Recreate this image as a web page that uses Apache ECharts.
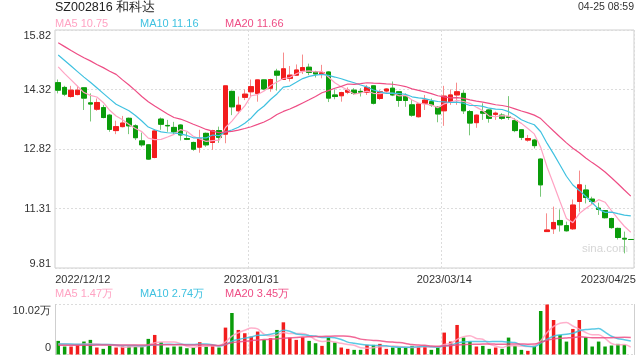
<!DOCTYPE html>
<html><head><meta charset="utf-8">
<script src="https://cdn.jsdelivr.net/npm/echarts@6/dist/echarts.min.js"></script>
<style>html,body{margin:0;padding:0;background:#fff}#c{width:640px;height:360px}</style>
</head><body><div id="c"></div>
<script>
const dates = [
'2022/12/12','2022/12/13','2022/12/14','2022/12/15','2022/12/16','2022/12/19','2022/12/20','2022/12/21','2022/12/22','2022/12/23','2022/12/26','2022/12/27','2022/12/28','2022/12/29','2022/12/30',
'2023/01/03','2023/01/04','2023/01/05','2023/01/06','2023/01/09','2023/01/10','2023/01/11','2023/01/12','2023/01/13','2023/01/16','2023/01/17','2023/01/18','2023/01/19','2023/01/20','2023/01/30','2023/01/31',
'2023/02/01','2023/02/02','2023/02/03','2023/02/06','2023/02/07','2023/02/08','2023/02/09','2023/02/10','2023/02/13','2023/02/14','2023/02/15','2023/02/16','2023/02/17','2023/02/20','2023/02/21','2023/02/22','2023/02/23','2023/02/24','2023/02/27','2023/02/28',
'2023/03/01','2023/03/02','2023/03/03','2023/03/06','2023/03/07','2023/03/08','2023/03/09','2023/03/10','2023/03/13','2023/03/14','2023/03/15','2023/03/16','2023/03/17','2023/03/20','2023/03/21','2023/03/22','2023/03/23','2023/03/24','2023/03/27','2023/03/28','2023/03/29','2023/03/30','2023/03/31',
'2023/04/03','2023/04/04','2023/04/06','2023/04/07','2023/04/10','2023/04/11','2023/04/12','2023/04/13','2023/04/14','2023/04/17','2023/04/18','2023/04/19','2023/04/20','2023/04/21','2023/04/24','2023/04/25'];

const opens = [14.49,14.37,14.14,14.19,14.36,13.98,13.82,13.86,13.67,13.28,13.38,13.59,13.40,13.02,12.92,12.60,13.57,13.41,13.36,13.42,
13.08,12.98,12.86,13.21,12.98,13.28,13.19,14.27,13.78,14.12,14.26,14.22,14.56,14.35,14.78,14.57,14.60,14.68,14.79,14.88,
14.77,14.71,14.76,14.18,14.16,14.25,14.30,14.27,14.25,14.41,14.09,14.28,14.35,14.26,14.15,13.93,13.63,13.97,14.01,13.87,
13.78,14.01,14.18,14.22,13.76,13.48,13.76,13.80,13.69,13.67,13.63,13.53,13.30,13.04,13.04,12.56,10.73,10.80,11.01,10.88,
10.80,11.49,11.78,11.55,11.32,11.26,11.06,10.81,10.56,10.53];
const closes = [14.30,14.20,14.30,14.30,14.10,13.95,13.99,13.61,13.31,13.38,13.47,13.40,13.10,12.92,12.56,13.27,13.44,13.40,13.25,13.17,
13.06,12.81,13.07,12.92,13.28,13.11,14.41,13.88,13.92,14.20,14.39,14.56,14.33,14.57,14.68,14.84,14.68,14.81,14.87,14.75,
14.71,14.74,14.10,14.14,14.24,14.30,14.22,14.25,14.37,13.97,14.26,14.33,14.18,14.04,14.04,13.67,13.95,14.05,13.93,13.70,
14.15,14.18,14.26,13.78,13.47,13.67,13.72,13.59,13.72,13.59,13.61,13.28,13.11,13.08,12.90,11.91,10.77,10.96,10.90,10.75,
11.40,11.91,11.59,11.49,11.29,11.08,10.83,10.58,10.54,10.53];
const lows = [14.22,14.15,14.11,14.17,13.80,13.51,13.78,13.59,13.25,13.19,13.36,13.19,13.04,12.87,12.54,12.58,13.30,13.25,13.17,13.03,
13.04,12.77,12.72,12.87,12.79,12.97,12.96,13.67,13.70,14.05,14.14,14.01,14.30,14.26,14.29,14.56,14.52,14.66,14.71,14.68,
14.62,14.60,14.00,14.07,14.01,14.20,14.18,14.14,14.18,13.94,14.05,14.22,14.15,13.88,13.88,13.63,13.61,13.80,13.88,13.49,
13.40,13.93,13.93,13.70,13.16,13.35,13.55,13.48,13.55,13.55,13.55,13.24,13.04,13.00,12.83,11.61,10.73,10.67,10.73,10.73,
10.77,11.23,11.44,11.40,11.15,11.06,10.80,10.53,10.18,10.53];
const highs = [14.57,14.41,14.41,14.41,14.37,14.22,14.09,13.93,13.70,13.53,13.65,13.61,13.44,13.23,12.94,13.31,13.61,13.55,13.50,13.44,
13.24,13.00,13.30,13.23,13.30,13.38,14.41,14.29,14.14,14.32,14.57,14.57,14.57,14.59,14.84,15.25,14.91,14.95,15.20,14.97,
14.79,14.94,14.78,14.32,14.26,14.37,14.35,14.35,14.43,14.42,14.30,14.35,14.52,14.28,14.22,14.05,13.97,14.18,14.09,13.90,
14.41,14.32,14.49,14.30,13.80,13.69,13.97,13.82,13.76,13.72,14.15,13.59,13.31,13.17,13.07,12.58,11.19,11.36,11.29,10.98,
11.54,12.27,11.91,11.61,11.46,11.27,11.08,10.83,10.73,10.53];
// volume in 万
const volumes = [2.73,1.60,1.60,1.93,2.60,2.93,1.40,1.13,1.80,1.40,1.60,1.60,1.53,1.60,3.13,3.92,2.46,1.40,1.60,1.60,
1.26,1.40,2.46,1.60,1.80,1.40,5.39,8.32,4.92,4.26,3.59,4.60,2.93,3.26,4.92,6.45,3.39,2.93,3.46,2.73,
2.26,1.73,3.40,2.40,1.40,1.13,0.93,0.93,1.93,1.93,2.13,1.13,1.40,1.40,1.40,1.73,1.60,1.73,0.93,1.40,
4.39,2.59,5.92,3.39,2.59,1.60,1.73,1.13,1.40,1.13,3.39,1.73,0.93,0.73,1.73,8.72,10.02,6.92,3.92,2.59,
5.12,6.92,3.46,1.60,2.59,1.60,1.80,2.13,1.93,0];

// MA values carried in from before the visible window
const ma5Head = [14.89,14.72,14.56,14.40];
const ma10Head = [15.19,15.05,14.91,14.77,14.63,14.50,14.36,14.22,14.08];
const ma20Head = [15.50,15.40,15.30,15.21,15.12,15.04,14.95,14.87,14.78,14.70,14.56,14.43,14.29,14.14,14.01,13.90,13.80,13.70,13.61];
const vma5Head = [2.10,2.10,2.00,2.00];
const vma10Head = [2.10,2.10,2.10,2.05,2.05,2.00,2.00,2.00,2.00];
const vma20Head = [1.85,1.85,1.86,1.86,1.87,1.87,1.88,1.88,1.88,1.89,1.89,1.90,1.90,1.90,1.92,1.94,1.95,1.96,1.97];

const yTickLabels = ['9.81','11.31','12.82','14.32','15.82'];
const volTickLabels = ['0','10.02万'];
const xLabelIdx = [0,30,60,89];
const vLineIdx = [30,60];
const legendTop = ['MA5 10.75','MA10 11.16','MA20 11.66'];
const legendVol = ['MA5 1.47万','MA10 2.74万','MA20 3.45万'];

const UP='#f21d1d', DOWN='#0a9c0a', UP_W='#f78c8c', DOWN_W='#79c779';
const C5='#ffa3c3', C10='#3fc1e0', C20='#ee4d85';
const YMIN=9.81, YMAX=15.82, YINT=(YMAX-YMIN)/4;

function movingAvg(vals,n,head){
  return vals.map((v,i)=> i<head.length ? head[i] : +(vals.slice(i-n+1,i+1).reduce((a,b)=>a+b,0)/n).toFixed(3));
}
function isUp(i){
  if (closes[i]!==opens[i]) return closes[i]>opens[i];
  return i===0 || closes[i]>=closes[i-1];
}

const chart = echarts.init(document.getElementById('c'), null, {renderer:'canvas'});
const txt = {color:'#333', fontSize:11, fontFamily:'Liberation Sans, Arial, sans-serif'};
const dotted = {color:'#dcdcdc', type:[2,2], width:1};

const graphic = [
  {type:'text', left:55, top:1, style:{text:'SZ002816 和科达', fill:'#222', fontSize:12.5, fontFamily:'Liberation Sans, Arial, sans-serif'}},
  {type:'text', right:6, top:2, style:{text:'04-25 08:59', fill:'#333', fontSize:10.5, fontFamily:'Liberation Sans, Arial, sans-serif'}},
  {type:'text', left:582, top:243, style:{text:'sina.com', fill:'#d6d6d6', fontSize:11.5, fontFamily:'Liberation Sans, Arial, sans-serif'}}
];
[legendTop, legendVol].forEach((arr,k)=>{
  [C5,C10,C20].forEach((c,j)=>{
    graphic.push({type:'text', left:55+85*j, top: k===0?18:288, style:{text:arr[j], fill:c, fontSize:11, fontFamily:'Liberation Sans, Arial, sans-serif'}});
  });
});

const option = {
  animation:false,
  backgroundColor:'#fff',
  graphic: graphic,
  grid:[
    {left:55, right:6, top:30, height:238, show:true, borderColor:'#cfcfcf', borderWidth:1},
    {left:55, right:6, top:304.5, height:50}
  ],
  xAxis:[
    {type:'category', gridIndex:0, data:dates, boundaryGap:true,
     axisLine:{show:false}, axisTick:{show:false},
     axisLabel:Object.assign({}, txt, {margin:6, interval:(i)=>xLabelIdx.includes(i),
       formatter:(v,i)=> i===0 ? '{l|'+v+'}' : (i===dates.length-1 ? '{r|'+v+'}' : v),
       rich:{l:Object.assign({},txt,{padding:[0,0,0,49]}), r:Object.assign({},txt,{padding:[0,45,0,0]})}}),
     splitLine:{show:true, interval:(i)=>vLineIdx.includes(i), lineStyle:dotted}},
    {type:'category', gridIndex:1, data:dates, boundaryGap:true,
     axisLine:{show:false}, axisTick:{show:false}, axisLabel:{show:false},
     splitLine:{show:true, interval:(i)=>vLineIdx.includes(i), lineStyle:dotted}}
  ],
  yAxis:[
    {type:'value', gridIndex:0, min:YMIN, max:YMAX, interval:YINT,
     axisLine:{show:false}, axisTick:{show:false},
     splitLine:{show:true, lineStyle:dotted},
     axisLabel:Object.assign({}, txt, {margin:4,
       formatter:(v)=>{const k=Math.round((v-YMIN)/YINT); const s=yTickLabels[k];
         return k===4 ? '{t|'+s+'}' : (k===0 ? '{b|'+s+'}' : s);},
       rich:{t:Object.assign({},txt,{padding:[11,0,0,0]}), b:Object.assign({},txt,{padding:[0,0,9,0]})}})},
    {type:'value', gridIndex:1, min:0, max:10.02, interval:10.02,
     axisLine:{show:true, lineStyle:{color:'#cfcfcf'}}, axisTick:{show:false},
     splitLine:{show:true, lineStyle:dotted},
     axisLabel:Object.assign({}, txt, {margin:4,
       formatter:(v)=> v>0 ? '{t|'+volTickLabels[1]+'}' : '{b|'+volTickLabels[0]+'}',
       rich:{t:Object.assign({},txt,{padding:[13,0,0,0]}), b:Object.assign({},txt,{padding:[0,0,13,0]})}})},
    {type:'value', gridIndex:1, position:'right', min:0, max:1,
     axisLine:{show:true, lineStyle:{color:'#cfcfcf'}}, axisTick:{show:false}, axisLabel:{show:false}, splitLine:{show:false}}
  ],
  series:[
    {name:'wick', type:'candlestick', xAxisIndex:0, yAxisIndex:0, barWidth:5, silent:true,
     data: dates.map((d,i)=>[opens[i],closes[i],lows[i],highs[i]]),
     itemStyle:{color:UP_W, color0:DOWN_W, borderColor:UP_W, borderColor0:DOWN_W, borderWidth:1}},
    {name:'body', type:'candlestick', xAxisIndex:0, yAxisIndex:0, barWidth:5, silent:true,
     data: dates.map((d,i)=>[opens[i],closes[i],Math.min(opens[i],closes[i]),Math.max(opens[i],closes[i])]),
     itemStyle:{color:UP, color0:DOWN, borderColor:UP, borderColor0:DOWN, borderWidth:1}},
    {name:'MA5', type:'line', xAxisIndex:0, yAxisIndex:0, data:movingAvg(closes,5,ma5Head), symbol:'none', z:3, lineStyle:{color:C5, width:1.2}},
    {name:'MA10', type:'line', xAxisIndex:0, yAxisIndex:0, data:movingAvg(closes,10,ma10Head), symbol:'none', z:3, lineStyle:{color:C10, width:1.2}},
    {name:'MA20', type:'line', xAxisIndex:0, yAxisIndex:0, data:movingAvg(closes,20,ma20Head), symbol:'none', z:3, lineStyle:{color:C20, width:1.2}},
    {name:'VOL', type:'bar', xAxisIndex:1, yAxisIndex:1, barWidth:3.5, silent:true,
     data: volumes.map((v,i)=>({value:v, itemStyle:{color: isUp(i)?UP:DOWN}}))},
    {name:'VMA5', type:'line', xAxisIndex:1, yAxisIndex:1, data:movingAvg(volumes,5,vma5Head), symbol:'none', smooth:0.3, z:3, lineStyle:{color:C5, width:1.5, opacity:0.85}},
    {name:'VMA10', type:'line', xAxisIndex:1, yAxisIndex:1, data:movingAvg(volumes,10,vma10Head), symbol:'none', smooth:0.3, z:3, lineStyle:{color:C10, width:1.5, opacity:0.85}},
    {name:'VMA20', type:'line', xAxisIndex:1, yAxisIndex:1, data:movingAvg(volumes,20,vma20Head), symbol:'none', smooth:0.3, z:3, lineStyle:{color:C20, width:1.5, opacity:0.85}}
  ]
};
chart.setOption(option);
</script>
</body></html>
